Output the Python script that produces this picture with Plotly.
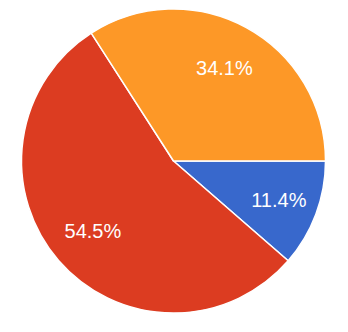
import plotly.graph_objects as go

labels = ["C", "A", "B"]
values = [11.4, 54.5, 34.1]
colors = ["#3868cc", "#dc3c21", "#fd9827"]

common = dict(
    labels=labels,
    values=values,
    sort=False,
    direction="clockwise",
    rotation=90,
    hoverinfo="skip",
    showlegend=False,
    domain=dict(x=[0, 1], y=[0, 1]),
)

# full pie with the coloured slices
fig = go.Figure(go.Pie(
    textinfo="none",
    marker=dict(colors=colors, line=dict(color="white", width=1.5)),
    **common,
))
# transparent ring on top carrying the labels at ~0.7 of the radius
fig.add_trace(go.Pie(
    hole=0.4,
    marker=dict(colors=["rgba(0,0,0,0)"] * len(values), line=dict(width=0)),
    textinfo="percent",
    texttemplate="%{percent:.1%}",
    textposition="inside",
    insidetextorientation="horizontal",
    textfont=dict(family="Liberation Sans, Arial, sans-serif", size=20, color="white"),
    **common,
))
fig.update_layout(
    width=348, height=332,
    margin=dict(l=21, r=22, t=9, b=19),
    paper_bgcolor="white",
    plot_bgcolor="white",
)
fig.write_html("out.html")
